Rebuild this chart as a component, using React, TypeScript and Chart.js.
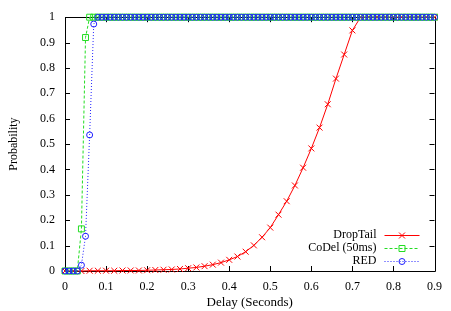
import { useEffect, useRef } from "react";
import { Chart, registerables } from "chart.js";

Chart.register(...registerables);

// Axis tick labels
const xTickLabels = ["0", "0.1", "0.2", "0.3", "0.4", "0.5", "0.6", "0.7", "0.8", "0.9"];
const yTickLabels = ["0", "0.1", "0.2", "0.3", "0.4", "0.5", "0.6", "0.7", "0.8", "0.9", "1"];

const seriesNames = ["DropTail", "CoDel (50ms)", "RED"];

// DropTail: sampled every 20 ms
const dropTailDelays = [
  0, 0.02, 0.04, 0.06, 0.08, 0.1, 0.12, 0.14, 0.16, 0.18,
  0.2, 0.22, 0.24, 0.26, 0.28, 0.3, 0.32, 0.34, 0.36, 0.38,
  0.4, 0.42, 0.44, 0.46, 0.48, 0.5, 0.52, 0.54, 0.56, 0.58,
  0.6, 0.62, 0.64, 0.66, 0.68, 0.7, 0.72, 0.74, 0.76, 0.78,
  0.8, 0.82, 0.84, 0.86, 0.88, 0.9,
];
const dropTailProb = [
  0, 0, 0, 0.001, 0.001, 0.001, 0.001, 0.002, 0.002, 0.002,
  0.003, 0.004, 0.005, 0.006, 0.008, 0.011, 0.014, 0.019, 0.025, 0.033,
  0.044, 0.057, 0.076, 0.101, 0.133, 0.171, 0.222, 0.275, 0.337, 0.407,
  0.483, 0.565, 0.657, 0.758, 0.853, 0.948, 1, 1, 1, 1,
  1, 1, 1, 1, 1, 1,
];

// AQM schemes: sampled every 10 ms
const aqmDelays = [
  0, 0.01, 0.02, 0.03, 0.04, 0.05, 0.06, 0.07, 0.08, 0.09,
  0.1, 0.11, 0.12, 0.13, 0.14, 0.15, 0.16, 0.17, 0.18, 0.19,
  0.2, 0.21, 0.22, 0.23, 0.24, 0.25, 0.26, 0.27, 0.28, 0.29,
  0.3, 0.31, 0.32, 0.33, 0.34, 0.35, 0.36, 0.37, 0.38, 0.39,
  0.4, 0.41, 0.42, 0.43, 0.44, 0.45, 0.46, 0.47, 0.48, 0.49,
  0.5, 0.51, 0.52, 0.53, 0.54, 0.55, 0.56, 0.57, 0.58, 0.59,
  0.6, 0.61, 0.62, 0.63, 0.64, 0.65, 0.66, 0.67, 0.68, 0.69,
  0.7, 0.71, 0.72, 0.73, 0.74, 0.75, 0.76, 0.77, 0.78, 0.79,
  0.8, 0.81, 0.82, 0.83, 0.84, 0.85, 0.86, 0.87, 0.88, 0.89,
  0.9,
];
const codelProb = [
  0, 0, 0, 0, 0.166, 0.92, 1, 1, 1, 1,
  1, 1, 1, 1, 1, 1, 1, 1, 1, 1,
  1, 1, 1, 1, 1, 1, 1, 1, 1, 1,
  1, 1, 1, 1, 1, 1, 1, 1, 1, 1,
  1, 1, 1, 1, 1, 1, 1, 1, 1, 1,
  1, 1, 1, 1, 1, 1, 1, 1, 1, 1,
  1, 1, 1, 1, 1, 1, 1, 1, 1, 1,
  1, 1, 1, 1, 1, 1, 1, 1, 1, 1,
  1, 1, 1, 1, 1, 1, 1, 1, 1, 1,
  1,
];
const redProb = [
  0, 0, 0, 0, 0.023, 0.137, 0.536, 0.973, 1, 1,
  1, 1, 1, 1, 1, 1, 1, 1, 1, 1,
  1, 1, 1, 1, 1, 1, 1, 1, 1, 1,
  1, 1, 1, 1, 1, 1, 1, 1, 1, 1,
  1, 1, 1, 1, 1, 1, 1, 1, 1, 1,
  1, 1, 1, 1, 1, 1, 1, 1, 1, 1,
  1, 1, 1, 1, 1, 1, 1, 1, 1, 1,
  1, 1, 1, 1, 1, 1, 1, 1, 1, 1,
  1, 1, 1, 1, 1, 1, 1, 1, 1, 1,
  1,
];

const SERIF = "'Liberation Serif', 'Times New Roman', 'DejaVu Serif', serif";
const RED_C = "#ff0000";
const GREEN_C = "#22dd22";
const BLUE_C = "#2020ff";

const toPoints = (xs: number[], ys: number[]) => xs.map((x, i) => ({ x, y: ys[i] }));

type Marker = "cross" | "square" | "circle";

function drawMarker(ctx: CanvasRenderingContext2D, kind: Marker, x: number, y: number) {
  ctx.beginPath();
  if (kind === "cross") {
    ctx.moveTo(x - 3, y - 3);
    ctx.lineTo(x + 3, y + 3);
    ctx.moveTo(x - 3, y + 3);
    ctx.lineTo(x + 3, y - 3);
  } else if (kind === "square") {
    ctx.rect(x - 3, y - 3, 6, 6);
  } else {
    ctx.arc(x, y, 3, 0, Math.PI * 2);
  }
  ctx.stroke();
}

// Box frame with inward ticks on all four sides
const framePlugin = {
  id: "frame",
  beforeDatasetsDraw(chart: any) {
    const { ctx, chartArea } = chart;
    const { left, right, top, bottom } = chartArea;
    const xs = chart.scales.x;
    const ys = chart.scales.y;
    const len = 5;
    ctx.save();
    ctx.strokeStyle = "#000";
    ctx.lineWidth = 1;
    ctx.beginPath();
    ctx.rect(Math.round(left) + 0.5, Math.round(top) + 0.5, Math.round(right - left), Math.round(bottom - top));
    for (const t of xs.ticks) {
      const px = Math.round(xs.getPixelForValue(t.value)) + 0.5;
      ctx.moveTo(px, bottom);
      ctx.lineTo(px, bottom - len);
      ctx.moveTo(px, top);
      ctx.lineTo(px, top + len);
    }
    for (const t of ys.ticks) {
      const py = Math.round(ys.getPixelForValue(t.value)) + 0.5;
      ctx.moveTo(left, py);
      ctx.lineTo(left + len, py);
      ctx.moveTo(right, py);
      ctx.lineTo(right - len, py);
    }
    ctx.stroke();
    ctx.restore();
  },
};

const markers: Marker[] = ["cross", "square", "circle"];

// Key in the lower right: right-aligned names followed by line samples
const keyPlugin = {
  id: "key",
  afterDatasetsDraw(chart: any) {
    const { ctx, chartArea } = chart;
    const { right, bottom } = chartArea;
    ctx.save();
    chart.data.datasets.forEach((ds: any, i: number) => {
      const y = bottom - 36 + i * 13;
      ctx.font = `12px ${SERIF}`;
      ctx.fillStyle = "#000";
      ctx.textAlign = "right";
      ctx.textBaseline = "middle";
      ctx.fillText(ds.label, right - 58, y);
      ctx.strokeStyle = ds.borderColor;
      ctx.lineWidth = 1;
      ctx.setLineDash(ds.borderDash || []);
      ctx.beginPath();
      ctx.moveTo(right - 50, y + 0.5);
      ctx.lineTo(right - 15, y + 0.5);
      ctx.stroke();
      ctx.setLineDash([]);
      drawMarker(ctx, markers[i], right - 32.5, y + 0.5);
    });
    ctx.restore();
  },
};

export default function App() {
  const canvasRef = useRef<HTMLCanvasElement>(null);

  useEffect(() => {
    const canvas = canvasRef.current;
    if (!canvas) return;
    const font = { family: SERIF, size: 12 };
    const titleFont = { family: SERIF, size: 13 };
    const common = {
      borderWidth: 1,
      pointBorderWidth: 1,
      pointBackgroundColor: "rgba(0,0,0,0)",
      pointHoverRadius: 0,
      tension: 0,
      fill: false,
      clip: false as any,
    };
    const chart = new Chart(canvas, {
      type: "line",
      data: {
        datasets: [
          {
            ...common,
            label: seriesNames[0],
            data: toPoints(dropTailDelays, dropTailProb),
            borderColor: RED_C,
            pointBorderColor: RED_C,
            pointStyle: "crossRot",
            pointRadius: 4.2,
            order: 3,
          },
          {
            ...common,
            label: seriesNames[1],
            data: toPoints(aqmDelays, codelProb),
            borderColor: GREEN_C,
            pointBorderColor: GREEN_C,
            borderDash: [3, 2],
            pointStyle: "rect",
            pointRadius: 4.2,
            order: 2,
          },
          {
            ...common,
            label: seriesNames[2],
            data: toPoints(aqmDelays, redProb),
            borderColor: BLUE_C,
            pointBorderColor: BLUE_C,
            borderDash: [1, 2],
            pointStyle: "circle",
            pointRadius: 3,
            order: 1,
          },
        ],
      },
      options: {
        responsive: false,
        animation: false,
        events: [],
        layout: { padding: { top: 8, right: 14, left: 0, bottom: 0 } },
        plugins: { legend: { display: false }, tooltip: { enabled: false } },
        scales: {
          x: {
            type: "linear",
            min: 0,
            max: 0.9,
            afterFit: (s: any) => {
              s.height = 40;
            },
            grid: { display: false, drawTicks: false },
            border: { display: false },
            ticks: {
              stepSize: 0.1,
              padding: 9,
              color: "#000",
              font,
              maxRotation: 0,
              autoSkip: false,
              callback: (_v: any, i: number) => xTickLabels[i] ?? "",
            },
            title: {
              display: true,
              text: "Delay (Seconds)",
              color: "#000",
              font: titleFont,
              padding: { top: 0, bottom: 1 },
            },
          },
          y: {
            type: "linear",
            min: 0,
            max: 1,
            afterFit: (s: any) => {
              s.width = 65;
            },
            grid: { display: false, drawTicks: false },
            border: { display: false },
            ticks: {
              stepSize: 0.1,
              padding: 10,
              color: "#000",
              font,
              autoSkip: false,
              callback: (_v: any, i: number) => yTickLabels[i] ?? "",
            },
            title: {
              display: true,
              text: "Probability",
              color: "#000",
              font,
              padding: { top: 7, bottom: 0 },
            },
          },
        },
      },
      plugins: [framePlugin, keyPlugin],
    });
    return () => chart.destroy();
  }, []);

  return (
    <div style={{ position: "absolute", left: 0, top: 0, width: 451, height: 311, background: "#fff" }}>
      <canvas ref={canvasRef} width={451} height={311} />
    </div>
  );
}
